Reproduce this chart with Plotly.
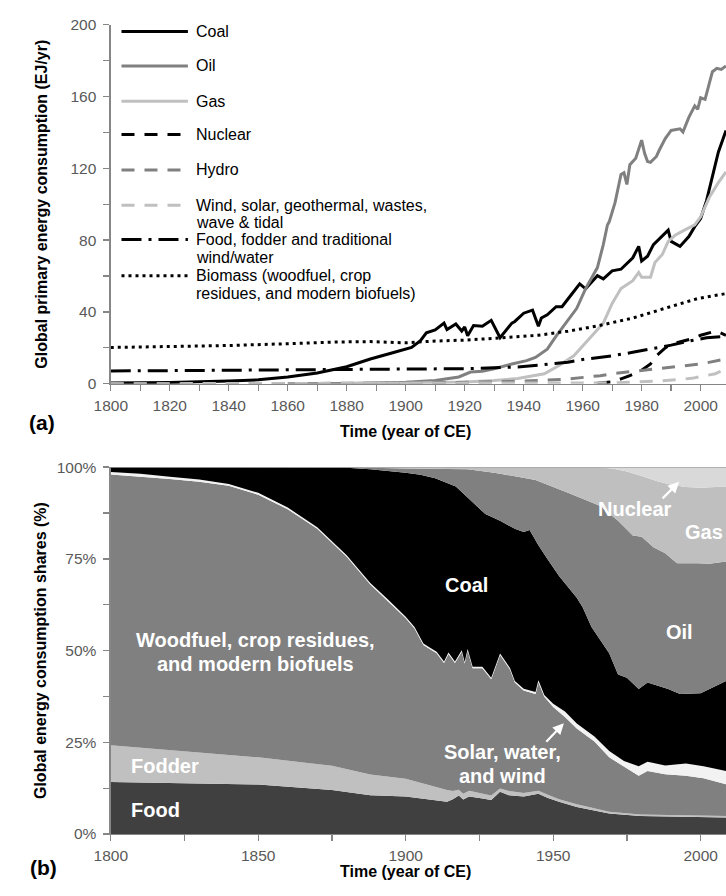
import plotly.graph_objects as go

W, H = 726, 896
FONT = "Liberation Sans, Arial, sans-serif"

# ---------------- Panel (a): global primary energy consumption (EJ/yr) ----------------
coal_years = [1800, 1820, 1840, 1850, 1860, 1870, 1880, 1888, 1895, 1902, 1905, 1907, 1910, 1913,
              1914, 1917, 1919, 1920, 1921, 1923, 1926, 1929, 1932, 1936, 1937, 1940, 1943, 1945,
              1946, 1948, 1951, 1953, 1956, 1959, 1961, 1965, 1967, 1970, 1973, 1977, 1979, 1980,
              1982, 1984, 1989, 1990, 1993, 1996, 1998, 2000, 2002, 2004, 2006, 2008.6]
coal_vals = [0.4, 0.7, 1.5, 2.2, 3.8, 6.0, 9.5, 13.8, 17.0, 20.2, 24.0, 28.4, 30.0, 33.8,
             30.2, 33.3, 29.4, 31.6, 26.7, 32.4, 32.0, 35.3, 25.6, 33.8, 34.7, 39.3, 41.0, 32.0,
             36.6, 38.4, 42.9, 42.9, 49.3, 55.6, 52.9, 60.2, 58.4, 62.9, 63.8, 70.2, 76.5, 68.4,
             71.0, 77.5, 85.6, 79.3, 76.5, 82.0, 87.5, 92.0, 102.0, 116.0, 129.0, 141.0]

oil_years = [1860, 1880, 1900, 1910, 1918, 1922, 1926, 1930, 1936, 1941, 1944, 1948, 1951, 1955,
             1958, 1961, 1965, 1967, 1968.4, 1969, 1971, 1973, 1974, 1975, 1976, 1978, 1980, 1981,
             1982, 1983, 1985, 1986, 1988, 1990, 1993, 1994, 1996, 1998, 1999, 2000, 2001.5, 2004,
             2005.5, 2007, 2008.6]
oil_vals = [0.0, 0.2, 0.9, 1.8, 3.8, 6.5, 7.0, 8.4, 11.0, 12.9, 14.7, 19.3, 26.5, 35.6,
            42.0, 53.0, 64.7, 77.5, 88.4, 90.2, 101.0, 116.6, 117.5, 111.0, 122.0, 125.6, 135.7, 128.4,
            123.8, 123.3, 126.6, 130.2, 136.6, 141.1, 142.0, 140.2, 148.4, 154.8, 152.9, 159.3, 158.4, 173.8,
            175.7, 175.1, 177.0]

gas_years = [1880, 1900, 1920, 1930, 1938, 1947, 1952, 1957, 1963, 1967, 1970, 1973, 1977, 1979,
             1980, 1983, 1984.5, 1987, 1989, 1991.5, 1994.5, 1998, 2000, 2003, 2006, 2008.6]
gas_vals = [0.1, 0.3, 1.0, 1.8, 2.9, 5.6, 10.2, 15.6, 26.5, 33.8, 44.7, 53.0, 57.4, 62.0,
            59.3, 59.3, 67.5, 72.0, 79.3, 82.9, 85.6, 88.5, 93.0, 104.0, 112.0, 118.0]

nuclear_years = [1965, 1970, 1973, 1976, 1980, 1983, 1985, 1988, 1990, 1994, 1997, 2000, 2002, 2005,
                 2006.5, 2008.6]
nuclear_vals = [0.3, 1.0, 2.7, 4.5, 7.5, 11.0, 15.6, 20.0, 22.0, 23.5, 25.0, 27.0, 28.0, 29.3,
                28.5, 27.0]

hydro_years = [1800, 1880, 1900, 1920, 1940, 1954, 1966, 1970, 1980, 1986, 2000, 2008.6]
hydro_vals = [0.0, 0.1, 0.3, 0.8, 1.5, 2.5, 4.5, 5.6, 7.5, 8.7, 11.0, 13.8]

renew_years = [1800, 1950, 1970, 1978, 1986, 1997, 2005, 2008.6]
renew_vals = [0.0, 0.2, 0.5, 1.0, 1.5, 3.0, 5.6, 8.4]

food_years = [1800, 1850, 1900, 1920, 1938, 1950, 1955, 1960, 1970, 1977, 1983, 1990, 1996, 2002, 2008.6]
food_vals = [7.1, 7.5, 8.0, 8.4, 9.3, 11.0, 12.0, 13.5, 15.6, 17.5, 19.3, 21.5, 23.8, 25.6, 26.5]

biomass_years = [1800, 1820, 1840, 1860, 1875, 1888, 1900, 1910, 1920, 1932, 1945, 1955, 1965, 1977,
                 1988, 1999, 2008.6]
biomass_vals = [20.2, 20.6, 21.3, 22.3, 23.2, 23.5, 22.8, 23.8, 24.3, 25.5, 27.0, 29.3, 32.2, 36.6,
                42.0, 47.5, 50.2]

legend_labels = ["Coal", "Oil", "Gas", "Nuclear", "Hydro",
                 ["Wind, solar, geothermal, wastes,", "wave & tidal"],
                 ["Food, fodder and traditional", "wind/water"],
                 ["Biomass (woodfuel, crop", "residues, and modern biofuels)"]]

# ---------------- Panel (b): consumption shares, upper boundary of each stacked layer (%) ----------------
food_top_years = [1800, 1825, 1850, 1875, 1888, 1900, 1910, 1914, 1916, 1918, 1919.5, 1921.5, 1925,
                  1929, 1932, 1935, 1940, 1945, 1948, 1952, 1958, 1964, 1969, 1979.5, 1990, 2000, 2008.6]
food_top = [14.2, 13.9, 13.5, 12.0, 10.6, 10.2, 9.3, 8.8, 9.5, 10.5, 9.4, 10.2, 9.8,
            9.3, 11.5, 10.6, 10.2, 11.0, 9.9, 8.8, 7.4, 6.4, 5.6, 4.9, 4.8, 4.7, 4.5]
fodder_top = [24.2, 22.5, 20.9, 18.6, 16.2, 15.1, 12.8, 12.0, 11.7, 12.1, 11.0, 11.8, 11.2,
              10.5, 12.4, 11.7, 11.2, 11.8, 10.8, 9.5, 8.1, 7.0, 6.1, 5.3, 5.2, 5.1, 4.9]

wood_top_years = [1800, 1810, 1820, 1830, 1840, 1850, 1860, 1870, 1880, 1888, 1894, 1900, 1903, 1906,
                  1908, 1910.5, 1913, 1914.5, 1916.7, 1919, 1920, 1921, 1922.7, 1926, 1929, 1932, 1935.4,
                  1937, 1940, 1944, 1945, 1947, 1950, 1954, 1958, 1964, 1969, 1974, 1979, 1982, 1988,
                  1995, 2001, 2008.6]
wood_top = [98.0, 97.5, 96.8, 96.0, 94.9, 92.5, 88.5, 83.2, 75.6, 68.0, 63.5, 58.8, 56.0, 51.5,
            50.5, 49.3, 46.6, 49.1, 46.6, 49.7, 46.5, 50.0, 45.2, 45.2, 42.2, 48.8, 44.8,
            41.3, 39.1, 38.2, 41.4, 37.4, 34.6, 31.9, 28.8, 25.2, 20.9, 18.4, 15.9, 17.2, 16.3,
            15.9, 15.2, 13.6]
swr_top = [98.7, 98.2, 97.4, 96.6, 95.4, 93.0, 89.0, 83.6, 76.0, 68.4, 63.9, 59.2, 56.4, 51.9,
           50.9, 49.7, 47.0, 49.5, 47.0, 50.1, 46.9, 50.4, 45.6, 45.6, 42.6, 49.2, 45.2,
           41.7, 39.6, 38.7, 41.9, 37.9, 35.5, 33.4, 30.1, 26.6, 22.6, 19.9, 18.5, 19.7, 18.7,
           19.2, 18.5, 17.2]

coal_top_years = [1800, 1860, 1870, 1880, 1888, 1900, 1905, 1910, 1917, 1921, 1927, 1932, 1937, 1940,
                  1942, 1943, 1945, 1948, 1952, 1958, 1960, 1963, 1966, 1969, 1972, 1975, 1979, 1982,
                  1989, 1993, 2000, 2004, 2008.6]
coal_top = [100.0, 100.0, 99.9, 99.8, 99.4, 98.5, 97.9, 97.0, 94.7, 91.6, 87.2, 85.4, 83.2, 82.3,
            82.9, 81.5, 78.7, 75.0, 70.3, 64.4, 61.8, 56.4, 53.0, 49.3, 43.5, 42.6, 39.5, 41.3,
            39.5, 38.2, 38.4, 39.9, 41.7]

oil_top_years = [1800, 1880, 1900, 1921, 1930, 1944, 1955, 1966, 1972, 1977, 1980, 1982, 1984, 1988,
                 1992, 1999, 2003, 2008.6]
oil_top = [100.0, 100.0, 99.6, 99.4, 98.5, 96.5, 93.0, 89.4, 85.4, 81.4, 81.0, 79.6, 78.2, 76.5,
           73.8, 73.8, 73.7, 74.3]

gas_top_years = [1800, 1965, 1970, 1975, 1980, 1985, 1990, 1995, 2000, 2005, 2008.6]
gas_top = [100.0, 100.0, 99.6, 98.8, 97.6, 96.2, 95.2, 94.6, 94.4, 94.5, 94.7]

nuclear_top_years = [1800, 2008.6]
nuclear_top = [100.0, 100.0]

# ---------------- helpers (window pixels -> paper fractions) ----------------
def fx(p):
    return p / W


def fy(p):
    return 1 - p / H


X_DOM = [fx(96), 1.0]
TOP_DOM = [fy(382), fy(16)]
BOT_DOM = [fy(841), fy(467)]
AXIS_GRAY = "#868686"
TICK_TXT = "#595959"

fig = go.Figure()

# ---------------- panel (a) lines ----------------
series_a = [
    (coal_years, coal_vals, "#000000", "solid"),
    (oil_years, oil_vals, "#808080", "solid"),
    (gas_years, gas_vals, "#c0c0c0", "solid"),
    (nuclear_years, nuclear_vals, "#000000", "13px,10px"),
    (hydro_years, hydro_vals, "#808080", "13px,10px"),
    (renew_years, renew_vals, "#c0c0c0", "13px,10px"),
    (food_years, food_vals, "#000000", "20px,7px,3px,7px"),
    (biomass_years, biomass_vals, "#000000", "3px,4px"),
]
for xs, ys, col, dash in series_a:
    fig.add_trace(go.Scatter(x=xs, y=ys, mode="lines", xaxis="x", yaxis="y",
                             line=dict(color=col, width=3, dash=dash),
                             showlegend=False, hoverinfo="skip"))

# ---------------- panel (b) stacked areas ----------------
layers_b = [
    (food_top_years, food_top, "#404040", "tozeroy"),
    (food_top_years, fodder_top, "#c0c0c0", "tonexty"),
    (wood_top_years, wood_top, "#808080", "tonexty"),
    (wood_top_years, swr_top, "#f2f2f2", "tonexty"),
    (coal_top_years, coal_top, "#000000", "tonexty"),
    (oil_top_years, oil_top, "#808080", "tonexty"),
    (gas_top_years, gas_top, "#bfbfbf", "tonexty"),
    (nuclear_top_years, nuclear_top, "#d9d9d9", "tonexty"),
]
for xs, ys, col, fill in layers_b:
    fig.add_trace(go.Scatter(x=xs, y=ys, mode="lines", xaxis="x2", yaxis="y2",
                             fill=fill, fillcolor=col, line=dict(width=0, color=col),
                             showlegend=False, hoverinfo="skip"))
# top border line of the 100% level
fig.add_trace(go.Scatter(x=nuclear_top_years, y=nuclear_top, mode="lines", xaxis="x2", yaxis="y2",
                         line=dict(width=1.3, color=AXIS_GRAY), showlegend=False, hoverinfo="skip"))

axis_common = dict(showline=True, linecolor=AXIS_GRAY, linewidth=1.3, ticks="outside",
                   ticklen=6, tickwidth=1.3, tickcolor=AXIS_GRAY, showgrid=False, zeroline=False,
                   tickfont=dict(family=FONT, size=15.5, color=TICK_TXT))
minor_common = dict(ticks="outside", ticklen=6, tickcolor=AXIS_GRAY, tickwidth=1.3)

fig.update_layout(
    width=W, height=H,
    margin=dict(l=0, r=0, t=0, b=0),
    paper_bgcolor="white", plot_bgcolor="rgba(0,0,0,0)",
    font=dict(family=FONT),
    showlegend=False,
    xaxis=dict(domain=X_DOM, range=[1800, 2008.6], anchor="y", dtick=20, tick0=1800,
               minor=dict(dtick=10, **minor_common), ticklabelstandoff=1, **axis_common),
    yaxis=dict(domain=TOP_DOM, range=[0, 200], anchor="x", dtick=40, tick0=0,
               minor=dict(dtick=20, **minor_common), ticklabelstandoff=4, **axis_common),
    xaxis2=dict(domain=X_DOM, range=[1800, 2008.6], anchor="y2", dtick=50, tick0=1800,
                minor=dict(dtick=25, **minor_common), ticklabelstandoff=1, **axis_common),
    yaxis2=dict(domain=BOT_DOM, range=[0, 100], anchor="x2", dtick=25, tick0=0, ticksuffix="%",
                minor=dict(dtick=12.5, **minor_common), ticklabelstandoff=4, **axis_common),
)

annotations = []
shapes = []

# ---------------- manual legend for panel (a) ----------------
legend_rows_y = [23, 58, 94, 128, 164, 200, 235, 272]
line_gap = 18
for (xs, ys, col, dash), label, ry in zip(series_a, legend_labels, legend_rows_y):
    shapes.append(dict(type="line", xref="paper", yref="paper",
                       x0=fx(107), x1=fx(175), y0=fy(ry), y1=fy(ry),
                       line=dict(color=col, width=3, dash=dash)))
    lines = label if isinstance(label, list) else [label]
    for i, t in enumerate(lines):
        annotations.append(dict(text=t, xref="paper", yref="paper", x=fx(181), y=fy(ry + i * line_gap),
                                xanchor="left", yanchor="middle", showarrow=False,
                                font=dict(family=FONT, size=16, color="black")))

# ---------------- axis titles & panel labels ----------------
def title(text, x, y, angle=0, size=16):
    return dict(text=f"<b>{text}</b>", xref="paper", yref="paper", x=fx(x), y=fy(y),
                xanchor="center", yanchor="middle", showarrow=False, textangle=angle,
                font=dict(family=FONT, size=size, color="black"))

annotations += [
    title("Global primary energy consumption (EJ/yr)", 25, 199, -90),
    title("Time (year of CE)", 398, 431),
    title("(a)", 26, 422, 0, 21),
    title("Global energy consumption shares (%)", 24, 654, -90),
    title("Time (year of CE)", 398, 879),
    title("(b)", 27, 875, 0, 21),
]

# ---------------- labels inside panel (b) ----------------
def wlabel(text, x, y, anchor="center"):
    return dict(text=f"<b>{text}</b>", xref="paper", yref="paper", x=fx(x), y=fy(y),
                xanchor=anchor, yanchor="middle", showarrow=False,
                font=dict(family=FONT, size=20, color="white"))

annotations += [
    wlabel("Woodfuel, crop residues,", 244, 643),
    wlabel("and modern biofuels", 244, 668),
    wlabel("Fodder", 115, 772, "left"),
    wlabel("Food", 115, 816, "left"),
    wlabel("Coal", 460, 587),
    wlabel("Oil", 678, 635),
    wlabel("Nuclear", 633, 510),
    wlabel("Gas", 703, 533),
    wlabel("Solar, water,", 497, 757),
    wlabel("and wind", 497, 782),
]

# arrows
for hx, hy, tx, ty in [(678, 482, 660, 500), (560, 728, 541, 748)]:
    annotations.append(dict(text="", xref="paper", yref="paper", x=fx(hx), y=fy(hy),
                            ax=tx - hx, ay=ty - hy, showarrow=True, arrowhead=2, arrowsize=1,
                            arrowwidth=2.2, arrowcolor="white", standoff=0, startstandoff=0))

fig.update_layout(annotations=annotations, shapes=shapes)

# Remove the browser's default 8 px body margin so the figure fills the window exactly.
fig.write_html("out.html",
               config={"displayModeBar": False, "staticPlot": True},
               post_script="document.body.style.margin='0';"
                           "document.documentElement.style.overflow='hidden';")
